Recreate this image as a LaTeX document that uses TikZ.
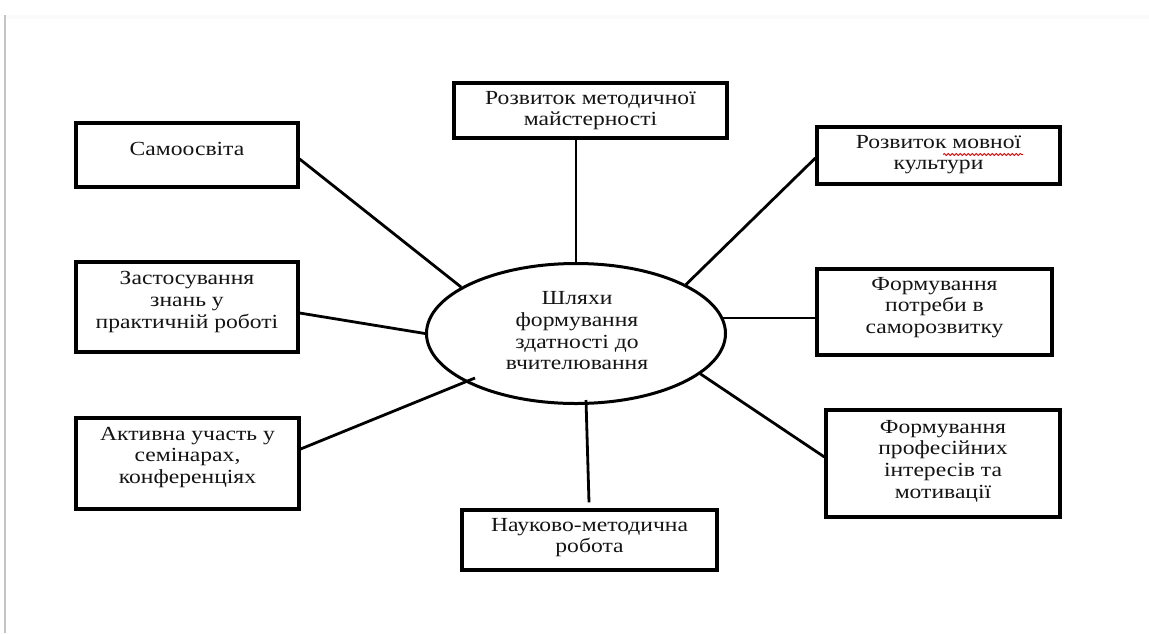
\documentclass[tikz,border=0pt]{standalone}
\usepackage{fontspec}
\setmainfont{Liberation Serif}[FakeStretch=1.18]
\usetikzlibrary{shapes.geometric,decorations.pathmorphing}
\tikzset{
  box/.style={draw=black, line width=3.2pt, rectangle, inner sep=0pt},
  lbl/.style={font=\fontsize{20}{21.7}\selectfont, align=center, inner sep=0pt, anchor=north, text=black!92, execute at begin node=\strut},
  conn/.style={draw=black, line width=2.8pt},
  hub/.style={draw=black, line width=3pt, ellipse, inner sep=0pt, minimum width=299pt, minimum height=140pt}
}
\begin{document}
\begin{tikzpicture}[x=1pt,y=-1pt]
\useasboundingbox (0,0) rectangle (1149,633);
% page edges
\fill[black!2] (4,15) rectangle (1149,19);
\fill[black!23] (4.3,15) rectangle (6.3,633);

% boxes
\node[box, minimum width=222pt, minimum height=64pt] (bs) at (187,155) {};
\node[box, minimum width=222pt, minimum height=90pt] (bz) at (187,307) {};
\node[box, minimum width=223pt, minimum height=91pt] (ba) at (187.5,463.5) {};
\node[box, minimum width=273pt, minimum height=55pt] (bt) at (590.5,110.5) {};
\node[box, minimum width=243pt, minimum height=57pt] (bm) at (938.5,155.5) {};
\node[box, minimum width=235pt, minimum height=86pt] (bp) at (934.5,312) {};
\node[box, minimum width=234pt, minimum height=107pt] (bf) at (943,463.5) {};
\node[box, minimum width=255pt, minimum height=60pt] (bn) at (589.5,540) {};

% hub
\node[hub] (c) at (576,333.5) {};

% labels
\node[lbl] (ts) at (187,139.8) {Самоосвіта};
\node[lbl] (tz) at (187,271.5) {Застосування\\знань у\\практичній роботі};
\node[lbl] (ta) at (187.5,426.8) {Активна участь у\\семінарах,\\конференціях};
\node[lbl] (tt) at (590.5,90.8) {Розвиток методичної\\майстерності};
\node[lbl] (tm) at (938.5,134.8) {Розвиток мовної\\культури};
\node[lbl] (tp) at (934.5,276.8) {Формування\\потреби в\\саморозвитку};
\node[lbl] (tf) at (943,419.8) {Формування\\професійних\\інтересів та\\мотивації};
\node[lbl] (tn) at (589.5,517.8) {Науково-методична\\робота};
\node[lbl] (tc) at (577,291.5) {Шляхи\\формування\\здатності до\\вчителювання};

% spell-check underline
\draw[red!85!black, line width=0.8pt, decorate, decoration={snake, segment length=4pt, amplitude=1pt}] (943,154.5) -- (1023,154.5);

% connectors
\coordinate (ka) at (475,378);
\draw[conn] ([yshift=-4pt]bs.east) -- (c.158.5);
\draw[conn] ([yshift=-6pt]bz.east) -- (c.180);
\draw[conn] ([yshift=14.5pt]ba.east) -- (ka);
\draw[conn] (c.north) -- (c.north |- bt.south);
\draw[conn] ([yshift=-2.5pt]bm.west) -- (c.24);
\draw[conn] (c.6) -- (c.6 -| bp.west);
\draw[conn] (c.342) -- ([yshift=6.5pt]bf.west);
\draw[conn] ([xshift=10pt,yshift=5pt]c.south) -- ([xshift=-0.5pt,yshift=6pt]bn.north);
\end{tikzpicture}
\end{document}
